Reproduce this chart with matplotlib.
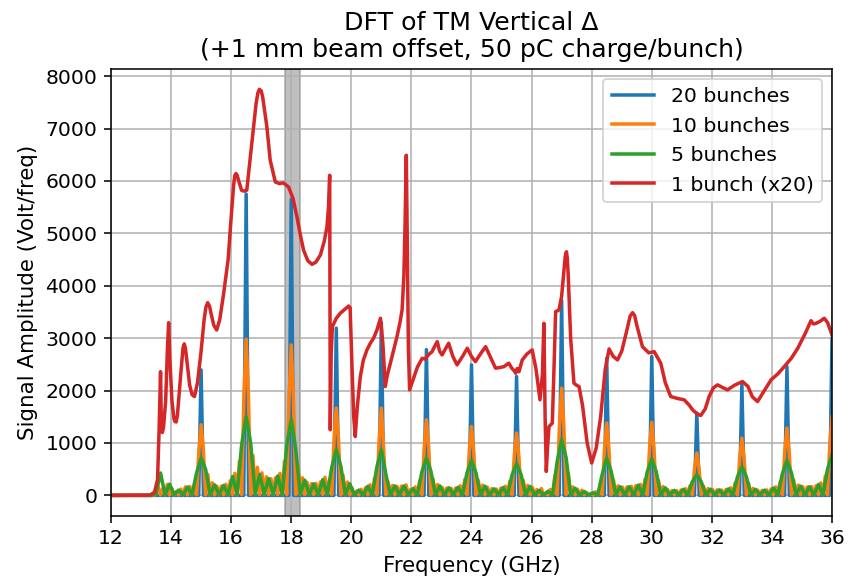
import numpy as np
import matplotlib.pyplot as plt

# bunch-train harmonics (GHz) and 20-bunch peak amplitudes
harm_f = [15.0, 16.5, 18.0, 19.5, 21.0, 22.5, 24.0, 25.5, 27.0, 28.5, 30.0, 31.5, 33.0, 34.5, 36.0]
peak_20 = [2394, 5750, 5650, 3190, 3300, 2780, 2490, 2267, 3720, 2617, 2648, 1570, 2109, 2457, 3000]

# 10 bunches, one value every 0.075 GHz from 12 to 36 GHz (rows start at each harmonic)
amp_10 = [
    0, 0, 0, 0, 0, 0, 0, 0, 0, 0, 0, 0, 0, 0, 0, 0, 0, 0, 0, 0,
    40, 160, 10, 130, 10, 210, 10, 135, 10, 70, 5, 120, 10, 160, 10, 170, 10, 210, 10, 840,
    1347, 870, 10, 400, 10, 240, 10, 177, 10, 177, 10, 212, 10, 280, 10, 420, 10, 650, 15, 1880,
    2979, 1920, 15, 760, 15, 536, 15, 430, 15, 354, 15, 318, 15, 336, 15, 420, 15, 650, 15, 1840,
    2870, 1820, 15, 576, 15, 336, 15, 252, 15, 222, 15, 227, 15, 258, 15, 345, 15, 300, 15, 1060,
    1665, 1060, 10, 385, 10, 254, 10, 140, 10, 81, 10, 116, 10, 151, 10, 204, 10, 334, 10, 1060,
    1665, 900, 10, 253, 10, 190, 10, 169, 10, 177, 10, 200, 10, 112, 10, 162, 10, 282, 10, 900,
    1442, 920, 10, 308, 10, 207, 10, 150, 10, 140, 10, 135, 10, 140, 10, 183, 10, 303, 10, 840,
    1314, 840, 10, 286, 10, 195, 10, 157, 10, 128, 10, 121, 10, 137, 10, 175, 10, 268, 10, 760,
    1189, 760, 10, 286, 10, 190, 10, 155, 10, 111, 10, 131, 10, 30, 10, 113, 10, 374, 10, 1300,
    2046, 1310, 15, 418, 10, 162, 10, 118, 10, 96, 10, 56, 5, 36, 5, 70, 5, 158, 10, 870,
    1379, 880, 10, 297, 10, 182, 10, 157, 10, 160, 10, 173, 10, 185, 10, 209, 10, 308, 10, 890,
    1391, 890, 10, 286, 10, 169, 10, 112, 10, 93, 10, 92, 10, 102, 10, 127, 10, 185, 10, 515,
    808, 515, 10, 176, 10, 130, 10, 112, 10, 105, 10, 103, 10, 112, 10, 145, 10, 235, 10, 700,
    1093, 700, 10, 227, 10, 134, 10, 101, 10, 95, 10, 104, 10, 123, 10, 162, 10, 264, 10, 820,
    1284, 820, 10, 297, 10, 197, 10, 168, 10, 160, 10, 167, 10, 185, 10, 237, 10, 370, 10, 960,
    1505,
]

# 5 bunches, one value every 0.15 GHz from 12 to 36 GHz
amp_5 = [
    0, 0, 0, 0, 0, 0, 0, 0, 0, 0,
    30, 427, 15, 215, 15, 100, 15, 160, 15, 430,
    712, 500, 15, 200, 15, 190, 15, 360, 20, 970,
    1505, 1000, 20, 400, 20, 320, 20, 370, 20, 950,
    1442, 880, 20, 290, 15, 220, 15, 300, 15, 540,
    870, 560, 15, 220, 10, 100, 10, 175, 10, 540,
    870, 400, 10, 180, 10, 180, 10, 130, 10, 450,
    712, 460, 10, 180, 10, 145, 10, 155, 10, 430,
    667, 430, 10, 175, 10, 125, 10, 150, 10, 390,
    604, 400, 10, 170, 10, 95, 10, 80, 10, 640,
    1061, 720, 10, 135, 10, 75, 5, 50, 5, 400,
    712, 460, 10, 165, 10, 165, 10, 195, 10, 450,
    693, 450, 10, 145, 10, 95, 10, 115, 10, 260,
    394, 255, 10, 118, 10, 105, 10, 124, 10, 350,
    552, 355, 10, 115, 10, 100, 10, 140, 10, 420,
    667, 430, 10, 177, 10, 165, 10, 208, 10, 500,
    775,
]

# single bunch, scaled x20
f_1 = [12.0, 13.3, 13.45, 13.55, 13.6, 13.65, 13.68, 13.71, 13.75, 13.82, 13.88, 13.92, 13.96,
       14.03, 14.1, 14.13, 14.17, 14.21, 14.25, 14.35, 14.4, 14.44, 14.48, 14.52, 14.62, 14.7,
       14.78, 14.88, 15.0, 15.1, 15.16, 15.22, 15.28, 15.32, 15.42, 15.52, 15.62, 15.75, 15.9,
       16.0, 16.08, 16.12, 16.16, 16.2, 16.25, 16.35, 16.43, 16.52, 16.6, 16.69, 16.83, 16.89,
       16.94, 17.0, 17.05, 17.19, 17.3, 17.47, 17.6, 17.74, 17.91, 18.06,
       18.19, 18.3, 18.41, 18.55, 18.69, 18.82, 18.97, 19.1, 19.19, 19.24, 19.28, 19.3, 19.33,
       19.37, 19.5, 19.63, 19.8, 19.91, 19.96, 20.02, 20.08, 20.13, 20.2, 20.3, 20.4, 20.52,
       20.63, 20.74, 20.85, 20.97, 21.05, 21.13, 21.2, 21.3, 21.42, 21.52, 21.62, 21.69, 21.75,
       21.79, 21.83, 21.86, 21.9, 21.94, 22.05, 22.2, 22.36, 22.45, 22.52, 22.6, 22.69, 22.78,
       22.86, 22.94, 23.02, 23.12, 23.24, 23.38, 23.52, 23.7, 23.86, 24.0, 24.13, 24.3, 24.47,
       24.62, 24.8, 24.95, 25.08, 25.24, 25.35, 25.42, 25.47, 25.52, 25.58, 25.69, 25.85, 26.02,
       26.15, 26.28, 26.36, 26.41, 26.45, 26.49, 26.53, 26.58, 26.69, 26.75, 26.8, 26.91, 27.0,
       27.08, 27.12, 27.16, 27.19, 27.22, 27.3, 27.41, 27.5, 27.58, 27.7, 27.85, 28.0, 28.15,
       28.3, 28.45, 28.58, 28.72, 28.86, 29.0, 29.15, 29.28, 29.36, 29.43, 29.5, 29.69, 29.9,
       30.08, 30.3, 30.45, 30.63,
       30.85, 31.08, 31.25, 31.36, 31.5, 31.63, 31.78, 31.91, 32.05, 32.19, 32.35, 32.52, 32.75,
       33.02, 33.2, 33.35, 33.52, 33.75, 33.97, 34.2, 34.41, 34.65, 34.86, 35.1, 35.3, 35.38,
       35.47, 35.6, 35.74, 35.85, 36.0]
amp_1 = [0, 5, 60, 300, 1200, 2360, 1250, 1200, 1300, 1800, 2800, 3295, 2600,
         1800, 1450, 1410, 1400, 1520, 1800, 2500, 2820, 2890, 2800, 2600, 2100, 1920,
         1886, 2150, 2750, 3350, 3590, 3676, 3610, 3500, 3250, 3156, 3350, 3850, 4500,
         5300, 5900, 6100, 6141, 6110, 6000, 5820, 5804, 5823, 6250, 6712, 7474, 7680,
         7747, 7720, 7600, 7029, 6394, 5981, 5950, 5962, 5886, 5665,
         5314, 4980, 4680, 4480, 4408, 4450, 4585, 4850, 5124, 5500, 6108, 1252, 2700,
         3219, 3380, 3474, 3560, 3613, 3580, 2500, 1500, 1124, 1700, 2267, 2580, 2775,
         2900, 2998, 3150, 3379, 2900, 2076, 2300, 2522, 2800, 3029, 3300, 3537, 4200,
         5200, 6490, 5000, 2800, 2013, 2200, 2450, 2617, 2600, 2648, 2700, 2743, 2850,
         2933, 2750, 2680, 2780, 2903, 2650, 2490, 2650, 2808, 2650, 2552, 2700, 2838,
         2650, 2427, 2440, 2457, 2522, 2420, 2380, 2331, 2420, 2360, 2585, 2700, 2775,
         2400, 1823, 2300, 3284, 1500, 457, 900, 1314, 1379, 2500, 3505, 3537, 3800,
         4300, 4560, 4648, 4520, 4200, 3000, 2141, 2100, 2076, 1700, 1000, 617, 900,
         1505, 2400, 2794, 2650, 2585, 2750, 3100, 3420, 3486, 3430, 3250, 2838, 2720,
         2743, 2522, 2150, 1886,
         1850, 1823, 1720, 1632, 1560, 1524, 1650, 1886, 2050, 2109, 2060, 2013, 2100,
         2172, 2080, 1880, 1790, 2000, 2204, 2320, 2457, 2620, 2808, 3080, 3333, 3270,
         3284, 3320, 3379, 3300, 3061]

f_10 = np.linspace(12, 36, len(amp_10))
f_5 = np.linspace(12, 36, len(amp_5))

# narrow spikes for the 20-bunch train
f_20 = [12.0]
a_20 = [0]
for f, h in zip(harm_f, peak_20):
    f_20 += [f - 0.08, f, f + 0.08]
    a_20 += [0, h, 0]

fig = plt.figure(figsize=(849 / 140, 579 / 140), dpi=140)
ax = fig.add_subplot(111)
fig.subplots_adjust(left=0.1307, right=0.980, bottom=0.1093, top=0.8808)

ax.axvspan(17.8, 18.3, color='gray', alpha=0.5)
ax.plot(f_20, a_20, lw=1.8, label='20 bunches')
ax.plot(f_10, amp_10, lw=1.8, label='10 bunches')
ax.plot(f_5, amp_5, lw=1.8, label='5 bunches')
ax.plot(f_1, amp_1, lw=1.8, label='1 bunch (x20)')

ax.set_xlim(12, 36)
ax.set_ylim(-388, 8135)
ax.set_xticks(np.arange(12, 37, 2))
ax.tick_params(labelsize=10.5)
ax.set_title('DFT of TM Vertical Δ\n(+1 mm beam offset, 50 pC charge/bunch)', fontsize=13)
ax.set_xlabel('Frequency (GHz)', fontsize=11)
ax.set_ylabel('Signal Amplitude (Volt/freq)', fontsize=11)
ax.legend(loc='upper right', fontsize=10.5, handlelength=2.1)
ax.grid(True)

fig.savefig('out.png', dpi=140)
